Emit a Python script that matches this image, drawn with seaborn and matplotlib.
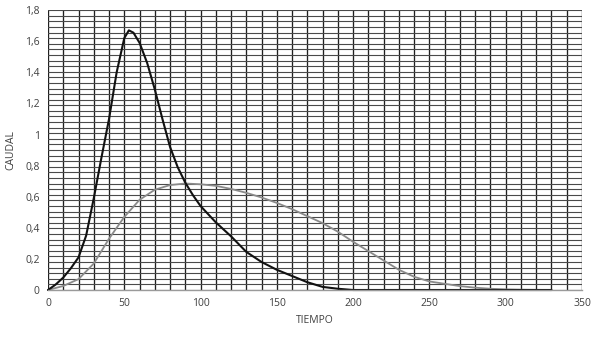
import numpy as np
import pandas as pd
import matplotlib
matplotlib.use("Agg")
import matplotlib.pyplot as plt
import seaborn as sns

# Data
tiempo_a = [0, 5, 10, 15, 20, 25, 30, 35, 40, 45, 50, 53, 56, 60, 65, 70, 75, 80, 85, 90, 95,
            100, 110, 120, 130, 140, 150, 160, 170, 180, 190, 200, 250, 300, 330]
caudal_a = [0, 0.035, 0.08, 0.14, 0.21, 0.35, 0.59, 0.85, 1.1, 1.4, 1.62, 1.67, 1.655, 1.59, 1.46,
            1.29, 1.10, 0.92, 0.79, 0.69, 0.61, 0.54, 0.435, 0.345, 0.245, 0.18, 0.13, 0.09, 0.05,
            0.02, 0.008, 0.0, 0.0, 0.0, 0.0]

tiempo_b = [0, 10, 20, 30, 40, 50, 60, 70, 80, 90, 100, 110, 120, 130, 140, 150, 160, 170, 180,
            190, 200, 210, 220, 230, 240, 250, 260, 270, 280, 290, 300, 310, 320, 330]
caudal_b = [0, 0.026, 0.07, 0.17, 0.33, 0.47, 0.58, 0.645, 0.675, 0.685, 0.68, 0.67, 0.65, 0.625,
            0.595, 0.56, 0.52, 0.475, 0.43, 0.375, 0.31, 0.25, 0.19, 0.13, 0.085, 0.055, 0.04,
            0.025, 0.015, 0.008, 0.004, 0.002, 0.001, 0.0]

x_ticks = [0, 50, 100, 150, 200, 250, 300, 350]
y_ticks = [0, 0.2, 0.4, 0.6, 0.8, 1.0, 1.2, 1.4, 1.6, 1.8]
y_labels = ["0", "0,2", "0,4", "0,6", "0,8", "1", "1,2", "1,4", "1,6", "1,8"]

sns.set_theme(style="white")
plt.rcParams['font.family'] = ['Open Sans', 'DejaVu Sans']

fig = plt.figure(figsize=(6.0, 3.38), dpi=100)
ax = fig.add_axes([0.08, 0.142, 0.89, 0.828])

df_a = pd.DataFrame({"TIEMPO": tiempo_a, "CAUDAL": caudal_a})
df_b = pd.DataFrame({"TIEMPO": tiempo_b, "CAUDAL": caudal_b})

ax.set_xlim(0, 350)
ax.set_ylim(0, 1.8)

# grid
ax.xaxis.remove_overlapping_locs = False
ax.yaxis.remove_overlapping_locs = False
ax.set_xticks(np.arange(0, 351, 10), minor=True)
ax.set_yticks(np.linspace(0, 1.8, 51), minor=True)
ax.set_xticks(x_ticks)
ax.set_yticks(y_ticks)
ax.set_yticklabels(y_labels)
ax.grid(False, which="major")
ax.grid(True, which="minor", axis="x", color="#202020", linewidth=0.95)
ax.grid(True, which="minor", axis="y", color="#4a4a4a", linewidth=0.8)
ax.set_axisbelow(True)
ax.tick_params(which="both", length=0)
ax.tick_params(axis="both", labelsize=7.5, colors="#404040", pad=6)

sns.lineplot(data=df_b, x="TIEMPO", y="CAUDAL", ax=ax, color="#8a8a8a", linewidth=1.3, clip_on=False)
sns.lineplot(data=df_a, x="TIEMPO", y="CAUDAL", ax=ax, color="#111111", linewidth=1.5, clip_on=False)

for s in ["left", "right", "top"]:
    ax.spines[s].set_visible(False)
ax.spines["bottom"].set_color("#9a9a9a")
ax.spines["bottom"].set_linewidth(1.0)

ax.set_xlabel("TIEMPO", fontsize=7.5, color="#404040", labelpad=4)
ax.set_ylabel("CAUDAL", fontsize=7.5, color="#404040", labelpad=6)

fig.savefig("out.png", dpi=100, facecolor="white")
